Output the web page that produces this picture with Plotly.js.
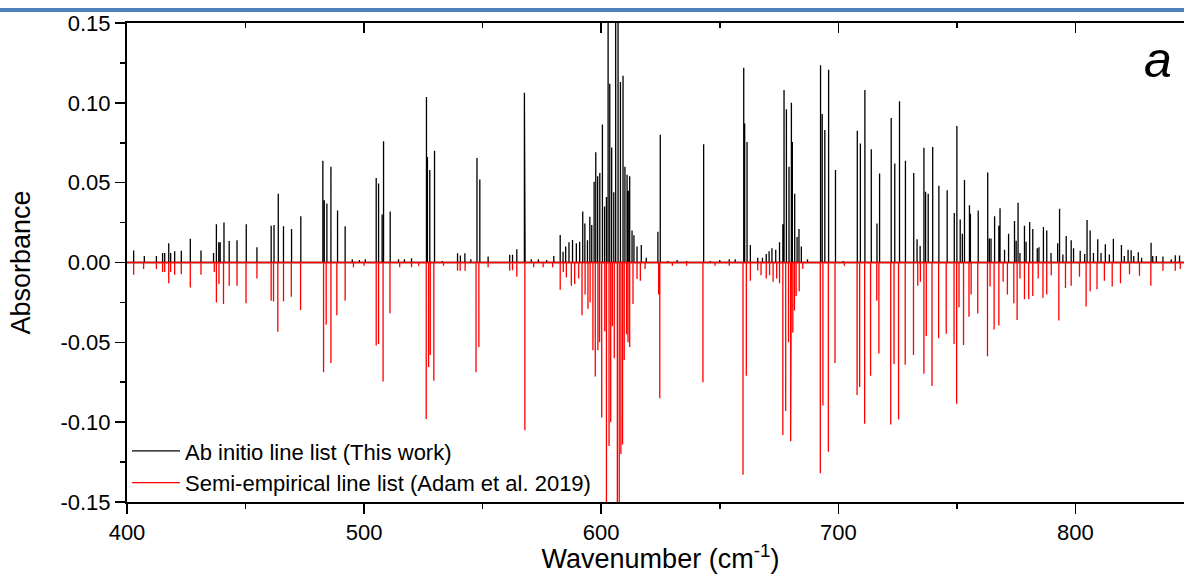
<!DOCTYPE html>
<html>
<head>
<meta charset="utf-8">
<script src="https://cdn.plot.ly/plotly-3.0.1.min.js"></script>
<style>
html,body{margin:0;padding:0;background:#fff;overflow:hidden;}
#topbar{position:absolute;left:0;top:8px;width:1184px;height:4px;background:#4f81bd;z-index:5;}
#chart{position:absolute;left:0;top:0;width:1200px;height:574px;}
</style>
</head>
<body>
<div id="topbar"></div>
<div id="chart"></div>
<script>
// Ab initio line list (This work): line centres (cm-1) and absorbance
const abInitioX = [402.8,407.3,412.4,415.0,415.9,417.6,418.4,420.1,422.9,426.7,431.2,436.5,437.7,438.7,439.3,440.9,443.1,446.4,450.3,454.8,460.8,462.0,463.8,466.0,469.4,473.3,482.6,483.2,484.3,486.0,488.8,492.0,495.0,498.0,500.5,505.1,506.1,507.6,508.2,511.0,514.5,517.0,520.0,526.3,526.7,527.7,529.7,533.0,539.4,540.6,542.5,545.0,547.6,548.8,552.3,561.4,562.6,564.4,567.6,567.9,570.5,573.5,577.0,580.0,582.7,583.9,585.0,586.4,587.9,589.5,590.9,592.2,593.1,594.2,595.2,596.0,597.0,597.7,598.5,599.4,600.5,601.4,602.2,602.9,603.6,604.4,605.3,606.1,607.1,608.1,609.2,610.0,610.9,611.4,612.0,613.0,613.8,615.1,616.9,619.0,623.9,624.9,628.0,632.0,636.0,643.2,646.0,650.0,654.0,656.5,660.1,660.5,661.5,662.9,666.0,668.0,669.6,670.8,672.0,673.6,675.2,676.6,677.1,678.1,679.2,680.2,680.6,681.6,682.6,683.4,684.4,687.0,692.5,693.2,694.3,695.9,698.8,702.0,708.0,709.3,711.2,713.9,716.3,717.4,722.3,723.8,725.8,728.3,731.8,733.2,734.5,736.1,736.8,737.9,739.8,742.4,745.9,748.9,750.0,751.4,752.3,753.2,755.3,755.7,759.0,763.0,763.7,764.4,765.9,767.7,768.2,770.1,771.8,774.3,775.0,775.8,776.6,778.5,779.2,780.7,782.0,783.9,784.6,786.5,787.9,789.7,792.5,793.3,794.7,796.1,798.2,799.2,802.0,803.9,804.9,806.2,807.6,809.4,810.8,812.6,814.3,816.0,819.4,820.6,822.2,823.5,824.6,826.5,827.9,831.9,832.6,834.1,836.9,840.4,842.1,843.9,846.5,848.5];
const abInitioY = [0.0075,0.004,0.004,0.006,0.006,0.012,0.006,0.007,0.0073,0.0148,0.0075,0.006,0.024,0.0127,0.0127,0.025,0.0135,0.014,0.024,0.0096,0.023,0.0235,0.043,0.0227,0.021,0.029,0.0637,0.039,0.037,0.060,0.0325,0.0227,0.002,0.0015,0.002,0.053,0.0495,0.030,0.076,0.032,0.002,0.002,0.0027,0.1036,0.066,0.058,0.070,0.001,0.0058,0.0044,0.0058,0.002,0.0655,0.052,0.0037,0.0048,0.0048,0.0083,0.1063,0.057,0.002,0.002,0.0015,0.004,0.0173,0.0067,0.010,0.0127,0.0141,0.012,0.013,0.032,0.0245,0.014,0.0287,0.0235,0.0505,0.069,0.054,0.056,0.0865,0.035,0.041,0.165,0.112,0.072,0.044,0.170,0.180,0.113,0.117,0.060,0.055,0.045,0.054,0.020,0.017,0.010,0.011,0.003,0.0193,0.080,0.001,0.0015,0.001,0.074,0.001,0.0015,0.002,0.002,0.122,0.087,0.0755,0.011,0.003,0.003,0.0054,0.007,0.009,0.008,0.0127,0.024,0.108,0.096,0.060,0.100,0.0755,0.043,0.016,0.021,0.010,0.002,0.1235,0.093,0.083,0.1207,0.058,0.001,0.0825,0.0745,0.108,0.071,0.0245,0.0558,0.0905,0.062,0.101,0.0637,0.056,0.0146,0.0104,0.0718,0.0443,0.043,0.0724,0.048,0.0453,0.031,0.0855,0.027,0.018,0.0516,0.0358,0.0306,0.0325,0.0564,0.015,0.015,0.029,0.023,0.034,0.008,0.018,0.026,0.0137,0.0374,0.006,0.023,0.013,0.0254,0.021,0.009,0.0096,0.0223,0.020,0.006,0.012,0.0337,0.005,0.0166,0.014,0.009,0.0073,0.0054,0.0266,0.020,0.006,0.0146,0.006,0.0115,0.005,0.0148,0.011,0.004,0.008,0.0077,0.004,0.0064,0.003,0.0123,0.004,0.004,0.0037,0.002,0.0046,0.0044,0.003,0.003];

// Semi-empirical line list (Adam et al. 2019): line centres (cm-1) and absorbance (plotted inverted)
const semiEmpX = [402.8,407.0,412.4,415.0,415.9,417.6,418.4,420.1,422.9,426.7,431.2,436.8,437.7,438.8,440.7,443.1,446.4,450.2,454.8,460.8,461.8,463.6,466.0,469.3,473.2,482.9,484.0,486.0,488.5,492.0,495.5,500.0,505.1,506.1,508.0,510.9,515.0,520.0,523.0,526.2,527.2,527.9,529.4,533.5,539.4,540.5,542.6,547.2,548.4,552.3,561.4,562.6,564.4,567.8,571.5,575.5,579.5,582.7,584.0,585.3,587.4,588.8,590.5,591.9,593.2,594.4,595.3,596.5,597.5,598.6,599.3,600.2,601.5,602.2,603.3,604.0,604.7,605.5,606.8,607.6,608.3,609.0,609.7,610.7,611.3,612.0,613.4,615.1,616.5,618.5,624.2,624.7,630.0,636.0,642.9,648.0,654.0,659.8,661.2,662.9,666.0,667.4,669.6,671.0,672.5,674.0,675.2,676.6,677.8,679.0,679.9,680.2,680.8,681.5,682.2,683.5,685.0,692.4,693.5,695.8,698.6,702.5,707.9,709.0,711.1,713.6,716.2,717.1,722.1,723.5,725.4,728.2,731.7,733.5,734.6,736.1,737.1,739.5,742.3,745.5,748.8,749.9,750.9,752.8,755.1,756.0,758.8,762.9,764.0,765.7,767.7,769.5,771.3,774.0,775.4,776.6,778.5,780.3,782.0,784.3,786.3,787.9,789.8,793.0,795.8,798.2,801.7,804.5,806.2,809.1,812.2,815.5,819.0,822.8,827.0,831.8,836.9,842.1,844.2,847.5];
const semiEmpY = [-0.0077,-0.004,-0.004,-0.006,-0.006,-0.013,-0.006,-0.0077,-0.0073,-0.0156,-0.0077,-0.006,-0.025,-0.0135,-0.026,-0.0146,-0.0146,-0.0256,-0.010,-0.024,-0.0245,-0.0433,-0.0243,-0.0214,-0.0297,-0.0687,-0.039,-0.063,-0.033,-0.024,-0.003,-0.002,-0.052,-0.051,-0.0745,-0.0318,-0.003,-0.003,-0.002,-0.098,-0.0655,-0.058,-0.074,-0.002,-0.0052,-0.0052,-0.0052,-0.0687,-0.053,-0.003,-0.0052,-0.0048,-0.009,-0.105,-0.003,-0.003,-0.003,-0.017,-0.006,-0.0094,-0.0146,-0.0135,-0.010,-0.033,-0.020,-0.029,-0.025,-0.055,-0.0714,-0.055,-0.050,-0.097,-0.043,-0.165,-0.115,-0.100,-0.040,-0.060,-0.170,-0.170,-0.120,-0.114,-0.061,-0.045,-0.050,-0.053,-0.026,-0.0104,-0.0114,-0.004,-0.020,-0.085,-0.002,-0.002,-0.075,-0.002,-0.002,-0.133,-0.071,-0.0115,-0.005,-0.008,-0.010,-0.008,-0.012,-0.010,-0.013,-0.108,-0.093,-0.050,-0.112,-0.079,-0.044,-0.030,-0.021,-0.018,-0.004,-0.132,-0.0895,-0.1186,-0.063,-0.002,-0.083,-0.078,-0.101,-0.071,-0.024,-0.057,-0.1015,-0.0635,-0.0984,-0.064,-0.058,-0.0146,-0.012,-0.0697,-0.046,-0.0774,-0.0474,-0.0447,-0.051,-0.0884,-0.028,-0.0516,-0.034,-0.020,-0.032,-0.0587,-0.015,-0.042,-0.0395,-0.012,-0.020,-0.0256,-0.036,-0.010,-0.023,-0.023,-0.021,-0.010,-0.022,-0.020,-0.008,-0.0364,-0.016,-0.0146,-0.009,-0.0275,-0.018,-0.0167,-0.0115,-0.015,-0.013,-0.0073,-0.0083,-0.0146,-0.0052,-0.0052,-0.004,-0.003];

const xRange = [400, 850];
const yRange = [-0.15, 0.15];
const xTickVals = [400, 500, 600, 700, 800];
const xTickText = ['400', '500', '600', '700', '800'];
const yTickVals = [-0.15, -0.10, -0.05, 0, 0.05, 0.10, 0.15];
const yTickText = ['-0.15', '-0.10', '-0.05', '0.00', '0.05', '0.10', '0.15'];
const seriesNames = ['Ab initio line list (This work)', 'Semi-empirical line list (Adam et al. 2019)'];

function sticks(xs, ys) {
  const X = [xRange[0]], Y = [0];
  xs.forEach((c, i) => { X.push(c, c, c); Y.push(0, ys[i], 0); });
  X.push(xRange[1]); Y.push(0);
  return {X, Y};
}
const a = sticks(abInitioX, abInitioY);
const s = sticks(semiEmpX, semiEmpY);

const FONT = 'Arial, "Liberation Sans", sans-serif';

const traces = [
  {x: a.X, y: a.Y, type: 'scatter', mode: 'lines', name: seriesNames[0],
   line: {color: '#000000', width: 1.3}, hoverinfo: 'skip'},
  {x: s.X, y: s.Y, type: 'scatter', mode: 'lines', name: seriesNames[1],
   line: {color: '#ff0000', width: 1.3}, hoverinfo: 'skip'},
  {x: [], y: [], xaxis: 'x2', yaxis: 'y', showlegend: false, hoverinfo: 'skip'},
  {x: [], y: [], xaxis: 'x', yaxis: 'y2', showlegend: false, hoverinfo: 'skip'}
];

const layout = {
  width: 1200, height: 574,
  margin: {l: 127, r: 6, t: 23, b: 72},
  paper_bgcolor: '#ffffff', plot_bgcolor: '#ffffff',
  font: {family: FONT, color: '#000000', size: 22},
  showlegend: true,
  legend: {x: 0.0, y: 0.150, xanchor: 'left', yanchor: 'top',
           bgcolor: 'rgba(0,0,0,0)', borderwidth: 0,
           font: {family: FONT, size: 22, color: '#000'}, tracegroupgap: 0, itemwidth: 48},
  xaxis: {
    range: xRange, tickmode: 'array', tickvals: xTickVals, ticktext: xTickText,
    ticks: 'outside', ticklen: 10, tickwidth: 1.6, tickcolor: '#000',
    minor: {ticks: 'outside', ticklen: 5, tickwidth: 1.6, tick0: 400, dtick: 50, tickcolor: '#000'},
    showline: true, linewidth: 2, linecolor: '#000', mirror: true,
    showgrid: false, zeroline: false,
    tickfont: {family: FONT, size: 22},
    title: {text: 'Wavenumber (cm<sup>-1</sup>)', font: {family: FONT, size: 27}, standoff: 6}
  },
  xaxis2: {
    overlaying: 'x', side: 'top', range: xRange, tickmode: 'array', tickvals: xTickVals,
    ticks: 'inside', ticklen: 10, tickwidth: 1.6, tickcolor: '#000',
    minor: {ticks: 'inside', ticklen: 5, tickwidth: 1.6, tick0: 400, dtick: 50, tickcolor: '#000'},
    showticklabels: false, showline: false, showgrid: false, zeroline: false
  },
  yaxis: {
    range: yRange, tickmode: 'array', tickvals: yTickVals, ticktext: yTickText,
    ticks: 'outside', ticklen: 10, tickwidth: 1.6, tickcolor: '#000',
    minor: {ticks: 'outside', ticklen: 5, tickwidth: 1.6, tick0: 0, dtick: 0.025, tickcolor: '#000'},
    showline: true, linewidth: 2, linecolor: '#000', mirror: true,
    showgrid: false, zeroline: false,
    tickfont: {family: FONT, size: 22},
    title: {text: 'Absorbance', font: {family: FONT, size: 27}, standoff: 22}
  },
  yaxis2: {
    overlaying: 'y', side: 'right', range: yRange, tickmode: 'array', tickvals: yTickVals,
    ticks: 'inside', ticklen: 10, tickwidth: 1.6, tickcolor: '#000',
    minor: {ticks: 'inside', ticklen: 5, tickwidth: 1.6, tick0: 0, dtick: 0.025, tickcolor: '#000'},
    showticklabels: false, showline: false, showgrid: false, zeroline: false
  },
  annotations: [
    {text: '<i>a</i>', xref: 'paper', yref: 'paper', x: 0.966, y: 0.922,
     xanchor: 'center', yanchor: 'middle', showarrow: false,
     font: {family: FONT, size: 50, color: '#000'}}
  ]
};

Plotly.newPlot('chart', traces, layout, {displayModeBar: false, staticPlot: true});
</script>
</body>
</html>
